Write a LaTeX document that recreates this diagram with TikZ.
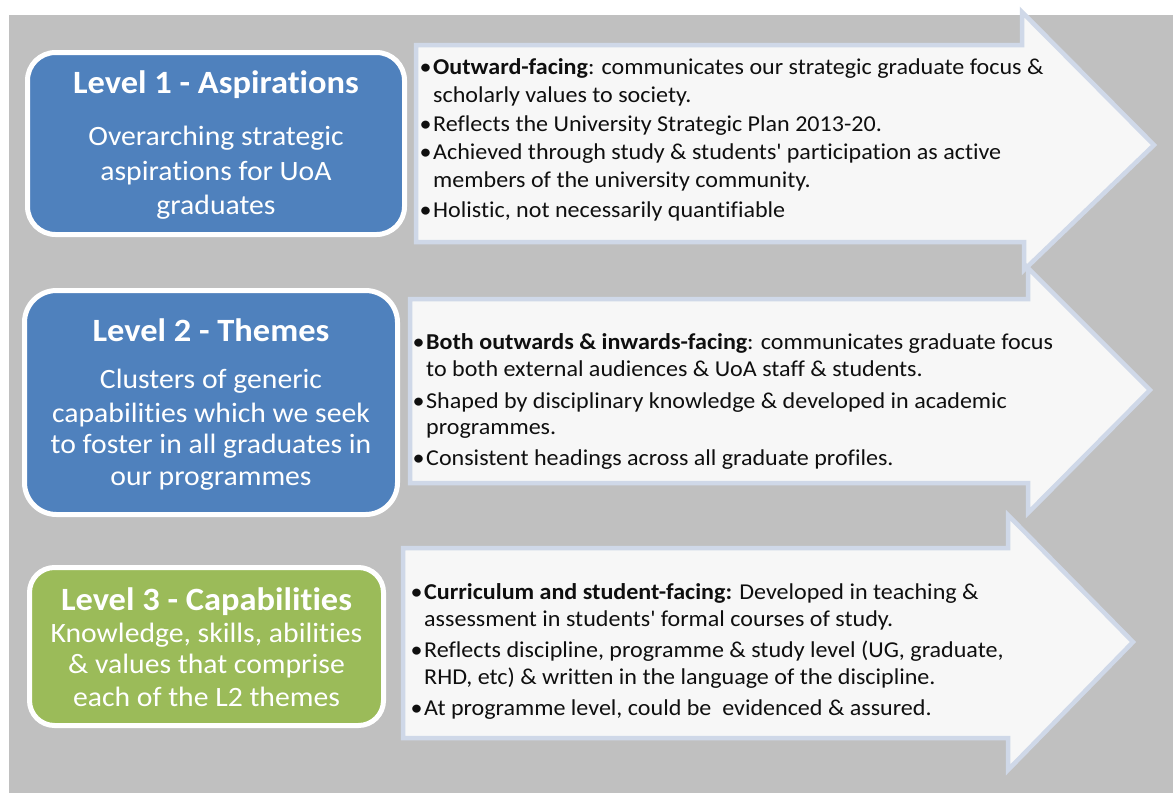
\documentclass[tikz,border=0pt]{standalone}
\usepackage{fontspec}
\setmainfont{Carlito}[FakeStretch=1.06, Ligatures=NoCommon]
\definecolor{bggrey}{RGB}{192,192,192}
\definecolor{lvlblue}{RGB}{79,129,189}
\definecolor{lvlgreen}{RGB}{155,187,89}
\definecolor{arrowfill}{RGB}{247,247,247}
\definecolor{arrowline}{RGB}{207,216,232}
\definecolor{txtblack}{RGB}{15,15,15}
\tikzset{
  bgrect/.style={fill=bggrey, draw=none},
  lvlbox/.style={draw=white, line width=5pt, inner sep=0pt, outer sep=0pt, anchor=north west},
  arrowshape/.style={fill=arrowfill, draw=arrowline, line width=4.5pt, line join=miter},
  ttl/.style={text=white, font=\fontsize{32.5}{38}\selectfont\bfseries, inner sep=0pt, anchor=base},
  bodyw/.style={text=white, font=\fontsize{28}{33}\selectfont, inner sep=0pt, anchor=base},
  btxt/.style={text=txtblack, font=\fontsize{22.7}{27}\selectfont, inner sep=0pt, anchor=base west},
}
\newcommand\bul{\llap{\textbullet\hspace{1.5pt}}}
\newcommand\apos{\textquotesingle}
\begin{document}
\begin{tikzpicture}[x=1pt,y=-1pt]
\useasboundingbox (0,0) rectangle (1173,793);
\fill[white] (0,0) rectangle (1173,793);
\fill[bgrect] (9,15) rectangle (1173,793);

% arrows
\draw[arrowshape] (416,45) -- (1022,45) -- (1022,12) -- (1154,145) -- (1024,270) -- (1024,242) -- (416,242) -- cycle;
\draw[arrowshape] (410,299) -- (1028,299) -- (1028,268) -- (1150,390) -- (1028,513) -- (1028,483) -- (410,483) -- cycle;
\draw[arrowshape] (403,548) -- (1008,548) -- (1008,515) -- (1133,642) -- (1008,770) -- (1008,738) -- (403,738) -- cycle;

% level boxes
\node[lvlbox, fill=lvlblue, rounded corners=28pt, minimum width=377pt, minimum height=182pt] (box1) at (27.5,52.5) {};
\node[lvlbox, fill=lvlblue, rounded corners=32pt, minimum width=373pt, minimum height=224pt] (box2) at (24.5,290.5) {};
\node[lvlbox, fill=lvlgreen, rounded corners=25pt, minimum width=354pt, minimum height=158pt] (box3) at (29.5,567.5) {};

% box 1 text
\node[ttl] (t1) at (216,93) {Level 1 - Aspirations};
\node[bodyw] (b1a) at (216,145) {Overarching strategic};
\node[bodyw] (b1b) at (216,180) {aspirations for UoA};
\node[bodyw] (b1c) at (216,214) {graduates};

% box 2 text
\node[ttl] (t2) at (211,341) {Level 2 - Themes};
\node[bodyw] (b2a) at (211,388) {Clusters of generic};
\node[bodyw] (b2b) at (211,422) {capabilities which we seek};
\node[bodyw] (b2c) at (211,453) {to foster in all graduates in};
\node[bodyw] (b2d) at (211,485) {our programmes};

% box 3 text
\node[ttl] (t3) at (206.5,610) {Level 3 - Capabilities};
\node[bodyw] (b3a) at (206.5,642) {Knowledge, skills, abilities};
\node[bodyw] (b3b) at (206.5,673) {\& values that comprise};
\node[bodyw] (b3c) at (206.5,706) {each of the L2 themes};

% arrow 1 text
\node[btxt] (a1l1) at (433,74) {\bul\textbf{Outward-facing}: communicates our strategic graduate focus \&};
\node[btxt] (a1l2) at (433,102) {scholarly values to society.};
\node[btxt] (a1l3) at (433,131) {\bul Reflects the University Strategic Plan 2013-20.};
\node[btxt] (a1l4) at (433,159) {\bul Achieved through study \& students\apos{} participation as active};
\node[btxt] (a1l5) at (433,187) {members of the university community.};
\node[btxt] (a1l6) at (433,217) {\bul Holistic, not necessarily quantifiable};

% arrow 2 text
\node[btxt] (a2l1) at (426,349) {\bul\textbf{Both outwards \& inwards-facing}: communicates graduate focus};
\node[btxt] (a2l2) at (426,376) {to both external audiences \& UoA staff \& students.};
\node[btxt] (a2l3) at (426,408) {\bul Shaped by disciplinary knowledge \& developed in academic};
\node[btxt] (a2l4) at (426,434) {programmes.};
\node[btxt] (a2l5) at (426,465) {\bul Consistent headings across all graduate profiles.};

% arrow 3 text
\node[btxt] (a3l1) at (424,599) {\bul\textbf{Curriculum and student-facing:} Developed in teaching \&};
\node[btxt] (a3l2) at (424,626) {assessment in students\apos{} formal courses of study.};
\node[btxt] (a3l3) at (424,657) {\bul Reflects discipline, programme \& study level (UG, graduate,};
\node[btxt] (a3l4) at (424,684) {RHD, etc) \& written in the language of the discipline.};
\node[btxt] (a3l5) at (424,715) {\bul At programme level, could be\ \ evidenced \& assured.};
\end{tikzpicture}
\end{document}
